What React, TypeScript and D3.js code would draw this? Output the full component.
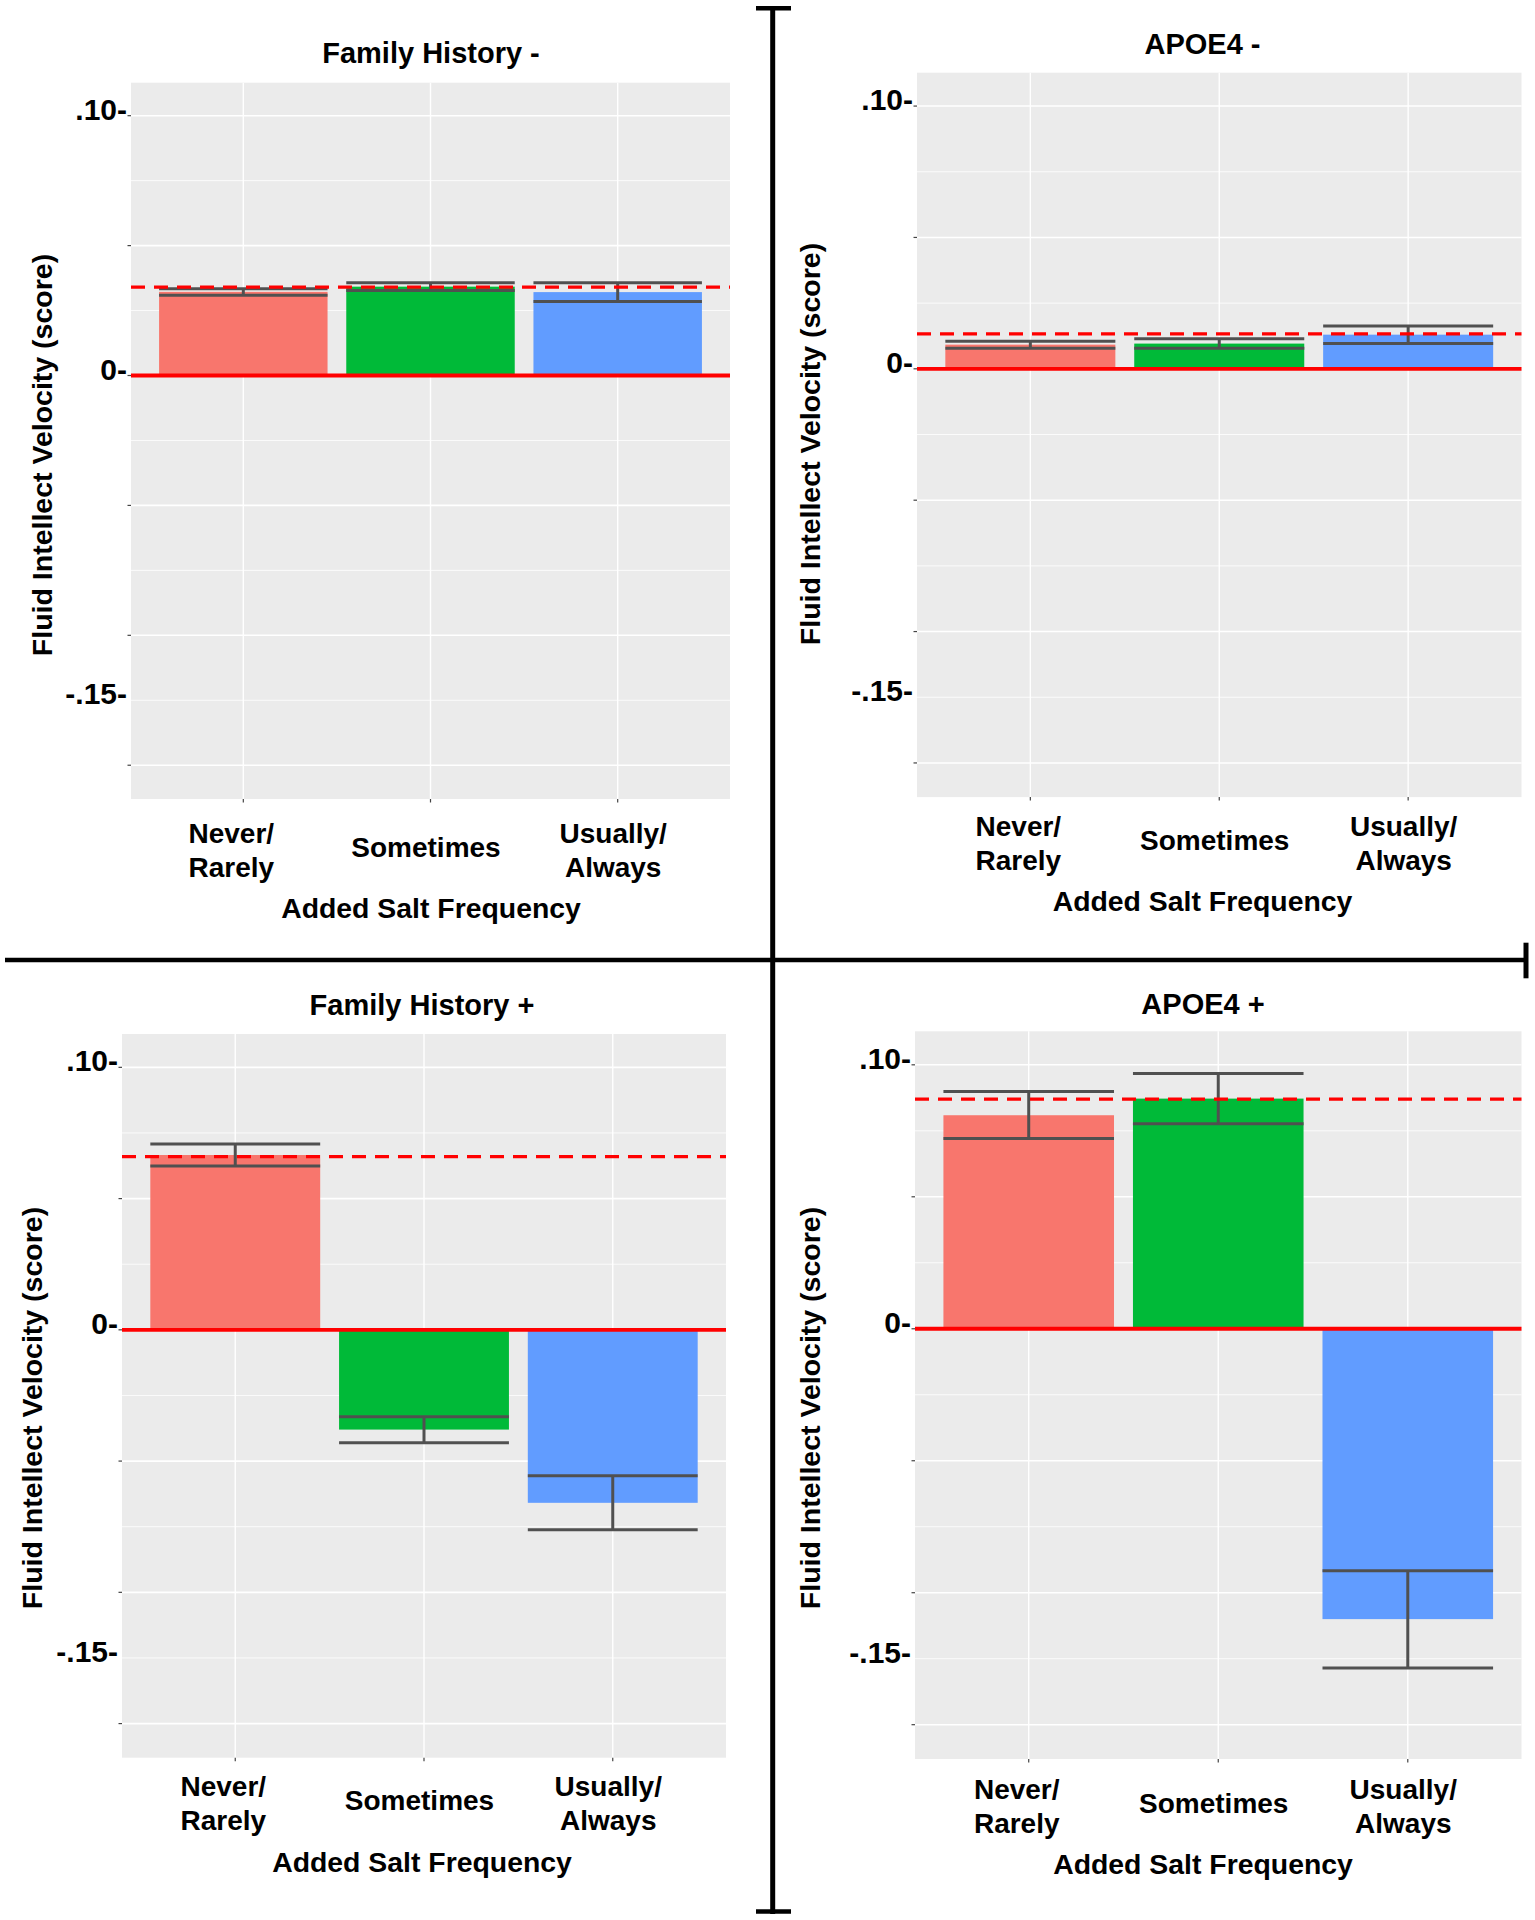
import React from "react";
import * as d3 from "d3";

// ---------- data ----------
const categories = ["Never/Rarely", "Sometimes", "Usually/Always"];
const categoryLabelLines = [["Never/", "Rarely"], ["Sometimes"], ["Usually/", "Always"]];
const barColors = ["#F8766D", "#00BA38", "#619CFF"];

const panelTitles = ["Family History -", "APOE4 -", "Family History +", "APOE4 +"];
const xAxisTitle = "Added Salt Frequency";
const yAxisTitle = "Fluid Intellect Velocity (score)";

const yTickLabels = [".10-", "0-", "-.15-"];
const yTickLabelValues = [0.1, 0, -0.125];
const yMajorBreaks = [-0.15, -0.1, -0.05, 0, 0.05, 0.1];
const yMinorBreaks = [-0.125, -0.075, -0.025, 0.025, 0.075];
const yDomain = [-0.163, 0.1127];

const fhNegMean = [0.0322, 0.0342, 0.0321];
const fhNegLow = [0.0309, 0.0327, 0.0285];
const fhNegHigh = [0.0334, 0.0357, 0.0357];
const fhNegRef = 0.034;

const apoeNegMean = [0.0092, 0.0096, 0.013];
const apoeNegLow = [0.0078, 0.0078, 0.0096];
const apoeNegHigh = [0.0105, 0.0114, 0.0163];
const apoeNegRef = 0.0133;

const fhPosMean = [0.0666, -0.038, -0.0659];
const fhPosLow = [0.0624, -0.043, -0.0762];
const fhPosHigh = [0.0708, -0.0331, -0.0556];
const fhPosRef = 0.066;

const apoePosMean = [0.0809, 0.0872, -0.11];
const apoePosLow = [0.0721, 0.0777, -0.1285];
const apoePosHigh = [0.0899, 0.0967, -0.0917];
const apoePosRef = 0.087;

const panelMeans = [fhNegMean, apoeNegMean, fhPosMean, apoePosMean];
const panelLows = [fhNegLow, apoeNegLow, fhPosLow, apoePosLow];
const panelHighs = [fhNegHigh, apoeNegHigh, fhPosHigh, apoePosHigh];
const panelRefs = [fhNegRef, apoeNegRef, fhPosRef, apoePosRef];

// ---------- layout ----------
const W = 1535;
const H = 1920;
const layout = [
  { x0: 131, x1: 730, y0: 82.7, y1: 799, titleX: 431, titleY: 62.7, yTitleX: 41.5, yTitleY: 455, labelDy: 5 },
  { x0: 917, x1: 1521.5, y0: 72.7, y1: 797.1, titleX: 1202.5, titleY: 54.3, yTitleX: 809.5, yTitleY: 444, labelDy: 0 },
  { x0: 122, x1: 726, y0: 1034, y1: 1757.7, titleX: 422, titleY: 1015, yTitleX: 32.3, yTitleY: 1408, labelDy: 0 },
  { x0: 915, x1: 1521.5, y0: 1031.3, y1: 1759, titleX: 1203, titleY: 1014, yTitleX: 809.5, yTitleY: 1408, labelDy: 1 },
];
const catDx = [-12, -4.5, -4.5];
const FONT = "'Liberation Sans', Arial, Helvetica, sans-serif";

function Panel({ i }: { i: number }) {
  const L = layout[i];
  const x = d3
    .scaleBand<string>()
    .domain(categories)
    .range([L.x0, L.x1])
    .paddingInner(0.1)
    .paddingOuter(0.15);
  const y = d3.scaleLinear().domain(yDomain).range([L.y1, L.y0]);
  const bw = x.bandwidth();
  const means = panelMeans[i];
  const lows = panelLows[i];
  const highs = panelHighs[i];
  const cx = (c: string) => (x(c) as number) + bw / 2;

  return (
    <g>
      <rect x={L.x0} y={L.y0} width={L.x1 - L.x0} height={L.y1 - L.y0} fill="#EBEBEB" />
      {yMinorBreaks.map((v) => (
        <line key={"mi" + v} x1={L.x0} x2={L.x1} y1={y(v)} y2={y(v)} stroke="#fff" strokeWidth={0.8} />
      ))}
      {yMajorBreaks.map((v) => (
        <line key={"ma" + v} x1={L.x0} x2={L.x1} y1={y(v)} y2={y(v)} stroke="#fff" strokeWidth={1.6} />
      ))}
      {categories.map((c) => (
        <line key={"vg" + c} x1={cx(c)} x2={cx(c)} y1={L.y0} y2={L.y1} stroke="#fff" strokeWidth={1.4} />
      ))}
      {/* axis ticks */}
      {yMajorBreaks.map((v) => (
        <line key={"tk" + v} x1={L.x0 - 3.5} x2={L.x0} y1={y(v)} y2={y(v)} stroke="#444" strokeWidth={1.2} />
      ))}
      {categories.map((c) => (
        <line key={"xt" + c} x1={cx(c)} x2={cx(c)} y1={L.y1} y2={L.y1 + 3.5} stroke="#444" strokeWidth={1.2} />
      ))}
      {/* bars */}
      {categories.map((c, k) => (
        <rect
          key={"b" + c}
          x={x(c)}
          width={bw}
          y={Math.min(y(means[k]), y(0))}
          height={Math.abs(y(means[k]) - y(0))}
          fill={barColors[k]}
        />
      ))}
      {/* error bars */}
      {categories.map((c, k) => (
        <g key={"e" + c} stroke="#505050" strokeWidth={3}>
          <line x1={cx(c)} x2={cx(c)} y1={y(lows[k])} y2={y(highs[k])} />
          <line x1={x(c)} x2={(x(c) as number) + bw} y1={y(lows[k])} y2={y(lows[k])} />
          <line x1={x(c)} x2={(x(c) as number) + bw} y1={y(highs[k])} y2={y(highs[k])} />
        </g>
      ))}
      {/* zero line & reference line */}
      <line x1={L.x0} x2={L.x1} y1={y(0)} y2={y(0)} stroke="#FF0000" strokeWidth={3.8} />
      <line
        x1={L.x0}
        x2={L.x1}
        y1={y(panelRefs[i])}
        y2={y(panelRefs[i])}
        stroke="#FF0000"
        strokeWidth={3.4}
        strokeDasharray="14 9"
      />
      {/* y tick labels */}
      {yTickLabels.map((t, k) => (
        <text
          key={"yl" + t}
          x={L.x0 - 4}
          y={y(yTickLabelValues[k]) + 4}
          textAnchor="end"
          fontFamily={FONT}
          fontWeight="bold"
          fontSize={30}
          fill="#000"
        >
          {t}
        </text>
      ))}
      {/* category labels */}
      {categories.map((c, k) => {
        const lines = categoryLabelLines[k];
        const baselines = lines.length === 1 ? [52.5] : [38.5, 72.5];
        return (
          <text
            key={"cl" + c}
            textAnchor="middle"
            fontFamily={FONT}
            fontWeight="bold"
            fontSize={28}
            fill="#000"
          >
            {lines.map((ln, j) => (
              <tspan key={j} x={cx(c) + catDx[k]} y={L.y1 + baselines[j] + L.labelDy}>
                {ln}
              </tspan>
            ))}
          </text>
        );
      })}
      {/* axis titles */}
      <text
        x={L.titleX}
        y={L.y1 + 114 + L.labelDy}
        textAnchor="middle"
        fontFamily={FONT}
        fontWeight="bold"
        fontSize={28.4}
        fill="#000"
      >
        {xAxisTitle}
      </text>
      <text
        transform={`translate(${L.yTitleX},${L.yTitleY}) rotate(-90)`}
        textAnchor="middle"
        dominantBaseline="central"
        fontFamily={FONT}
        fontWeight="bold"
        fontSize={28.5}
        fill="#000"
      >
        {yAxisTitle}
      </text>
      {/* panel title */}
      <text
        x={L.titleX}
        y={L.titleY}
        textAnchor="middle"
        fontFamily={FONT}
        fontWeight="bold"
        fontSize={29}
        fill="#000"
      >
        {panelTitles[i]}
      </text>
    </g>
  );
}

export default function App() {
  return (
    <svg
      width={W}
      height={H}
      viewBox={`0 0 ${W} ${H}`}
      style={{ position: "absolute", left: 0, top: 0, display: "block", background: "#fff" }}
    >
      <rect x={0} y={0} width={W} height={H} fill="#fff" />
      {panelTitles.map((_, i) => (
        <Panel key={i} i={i} />
      ))}
      {/* quadrant dividers */}
      <g stroke="#000">
        <line x1={772.7} x2={772.7} y1={6} y2={1914} strokeWidth={5} />
        <line x1={756} x2={791} y1={8.3} y2={8.3} strokeWidth={4.5} />
        <line x1={756} x2={791} y1={1911.5} y2={1911.5} strokeWidth={4.5} />
        <line x1={5} x2={1526} y1={960} y2={960} strokeWidth={4.5} />
        <line x1={1526} x2={1526} y1={942.7} y2={978.3} strokeWidth={5} />
      </g>
    </svg>
  );
}
